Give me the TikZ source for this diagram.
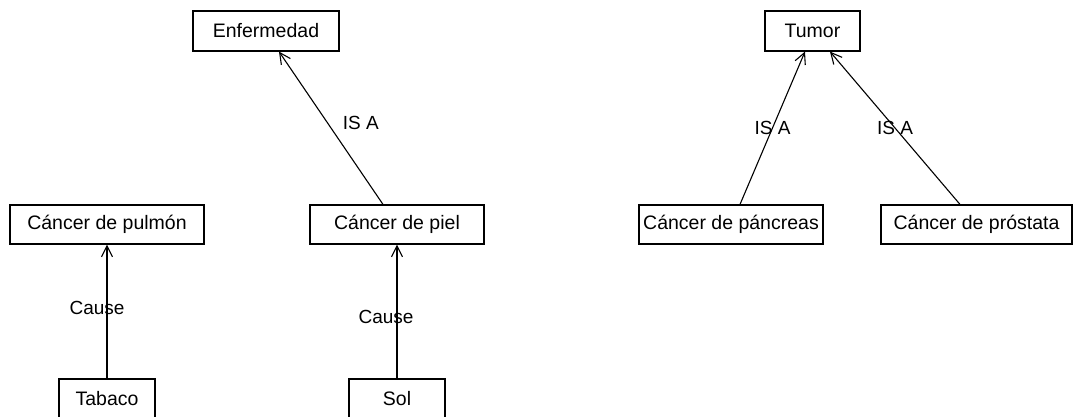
\documentclass[tikz,border=0pt]{standalone}
\usepackage{fontspec}
\setmainfont{Liberation Sans}
\usetikzlibrary{arrows.meta,positioning,calc}

\tikzset{
    concept/.style={rectangle, draw, line width=1.2pt, minimum height=39pt, inner sep=0pt, font=\fontsize{19.5}{23}\selectfont},
    relation/.style={-{Straight Barb[length=11pt,width=11pt]}, line width=1.1pt},
    tag/.style={inner sep=0pt, font=\fontsize{19}{23}\selectfont}
}

\begin{document}
\begin{tikzpicture}[x=1pt, y=-1pt]
    \clip (0, 0) rectangle (1074, 417);

    % top concepts
    \node[concept, minimum width=146pt, minimum height=40pt] (enfermedad) at (266, 31) {Enfermedad};
    \node[concept, minimum width=95pt, minimum height=40pt] (tumor) at (812.5, 31) {Tumor};

    \node[concept, minimum width=194pt] (cancer_pulmon) at (107, 224.5) {Cáncer de pulmón};
    \node[concept, minimum width=174pt] (cancer_piel) at (397, 224.5) {Cáncer de piel};
    \node[concept, minimum width=184pt] (cancer_pancreas) at (731, 224.5) {Cáncer de páncreas};
    \node[concept, minimum width=191pt] (cancer_prostata) at (976.5, 224.5) {Cáncer de próstata};

    % causes, cut by the lower edge
    \node[concept, minimum width=96pt, minimum height=40pt] (tabaco) at (107, 399) {Tabaco};
    \node[concept, minimum width=96pt, minimum height=40pt] (sol) at (397, 399) {Sol};

    \draw[relation] (tabaco.north) -- node[tag, pos=.53, xshift=-10pt] {Cause} (cancer_pulmon.south);
    \draw[relation] (sol.north) -- node[tag, pos=.46, xshift=-11pt] {Cause} (cancer_piel.south);

    \draw[relation] ([xshift=-14pt]cancer_piel.north) -- node[tag, pos=.53, xshift=33pt] {IS A} ([xshift=13pt]enfermedad.south);
    \draw[relation] ([xshift=9pt]cancer_pancreas.north) -- node[tag, pos=.5] {IS A} ([xshift=-7.5pt]tumor.south);
    \draw[relation] ([xshift=-16.5pt]cancer_prostata.north) -- node[tag, pos=.5] {IS A} ([xshift=17.5pt]tumor.south);
\end{tikzpicture}
\end{document}
